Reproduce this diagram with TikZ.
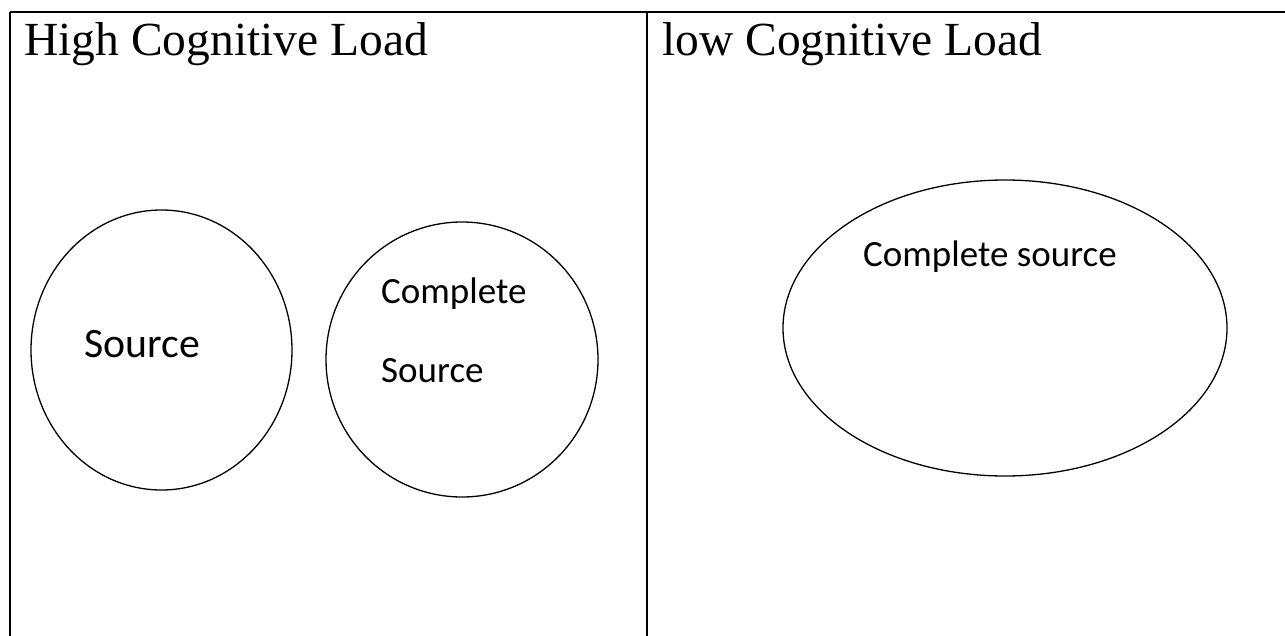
\documentclass[tikz,border=0pt]{standalone}
\usepackage{fontspec}
\setmainfont{Liberation Serif}
\newfontfamily\calib{Carlito}
\usetikzlibrary{shapes.geometric}
\tikzset{
  rule/.style={line width=2pt, draw=black},
  blob/.style={ellipse, draw=black, line width=1.3pt, inner sep=0pt},
  title/.style={anchor=base west, inner sep=0pt, font=\fontsize{47.5}{56}\selectfont},
  lbl/.style={anchor=base west, inner sep=0pt, font=\calib\fontsize{37}{44}\selectfont},
}
\begin{document}
\begin{tikzpicture}[x=1pt,y=-1pt]
\useasboundingbox (0,0) rectangle (1285,635);
\begin{scope}
\clip (0,0) rectangle (1285,635);
\coordinate (tl) at (10,12);
\coordinate (tr) at (1290,12);
\coordinate (bl) at (10,640);
\coordinate (tm) at (647,12);
\coordinate (bm) at (647,640);
\draw[rule] (tl) -- (tr);
\draw[rule] (tl) -- (bl);
\draw[rule] (tm) -- (bm);
\end{scope}
\node[title] (t1) at (24,55) {High Cognitive Load};
\node[title] (t2) at (662,55) {low Cognitive Load};
\node[blob, minimum width=261pt, minimum height=280pt] (e1) at (161.5,350) {};
\node[blob, minimum width=272pt, minimum height=275pt] (e2) at (462,359.5) {};
\node[blob, minimum width=444pt, minimum height=296pt] (e3) at (1005,328) {};
\node[lbl, font=\calib\fontsize{41.8}{48}\selectfont] (s1) at (84,357) {Source};
\node[lbl] (c2) at (381,303) {Complete};
\node[lbl] (s2) at (381,382) {Source};
\node[lbl] (c3) at (863,266) {Complete source};
\end{tikzpicture}
\end{document}
